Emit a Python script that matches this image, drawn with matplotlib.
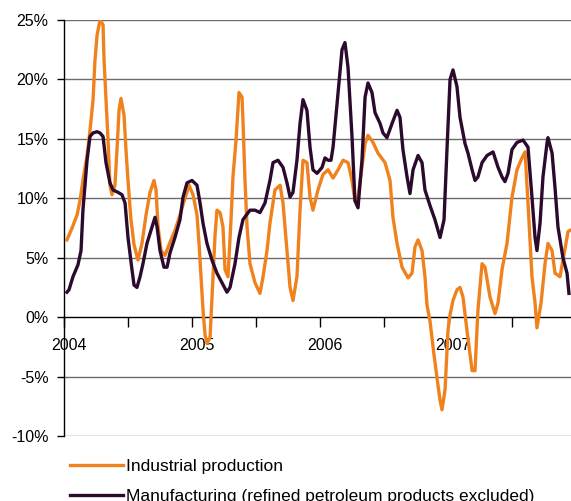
import numpy as np
import matplotlib
matplotlib.use("Agg")
import matplotlib.pyplot as plt
import matplotlib.ticker as ticker
from matplotlib.transforms import ScaledTranslation

plt.rcParams['font.family'] = ['Liberation Sans', 'DejaVu Sans']

# industrial production, year-on-year change in %
ind_years = [2004.023, 2004.063, 2004.102, 2004.125, 2004.148, 2004.180, 2004.203, 2004.227,
             2004.242, 2004.258, 2004.281, 2004.305, 2004.313, 2004.328, 2004.344, 2004.359,
             2004.375, 2004.398, 2004.414, 2004.430, 2004.445, 2004.469, 2004.484, 2004.500,
             2004.523, 2004.547, 2004.578, 2004.609, 2004.641, 2004.672, 2004.703, 2004.719,
             2004.734, 2004.758, 2004.789, 2004.828, 2004.867, 2004.906, 2004.945, 2004.977,
             2005.008, 2005.039, 2005.055, 2005.070, 2005.086, 2005.102, 2005.117, 2005.141,
             2005.164, 2005.180, 2005.195, 2005.219, 2005.242, 2005.258, 2005.281, 2005.305,
             2005.320, 2005.344, 2005.367, 2005.391, 2005.398, 2005.414, 2005.430, 2005.453,
             2005.492, 2005.531, 2005.555, 2005.586, 2005.609, 2005.648, 2005.688, 2005.711,
             2005.742, 2005.766, 2005.789, 2005.820, 2005.844, 2005.867, 2005.898, 2005.922,
             2005.945, 2005.984, 2006.023, 2006.063, 2006.102, 2006.141, 2006.180, 2006.219,
             2006.250, 2006.273, 2006.297, 2006.328, 2006.352, 2006.375, 2006.414, 2006.453,
             2006.508, 2006.547, 2006.570, 2006.602, 2006.641, 2006.688, 2006.719, 2006.742,
             2006.766, 2006.797, 2006.820, 2006.836, 2006.859, 2006.891, 2006.914, 2006.938,
             2006.953, 2006.977, 2007.000, 2007.016, 2007.039, 2007.070, 2007.094, 2007.117,
             2007.148, 2007.188, 2007.211, 2007.234, 2007.266, 2007.289, 2007.328, 2007.367,
             2007.391, 2007.422, 2007.461, 2007.500, 2007.539, 2007.578, 2007.602, 2007.625,
             2007.656, 2007.680, 2007.695, 2007.727, 2007.758, 2007.781, 2007.813, 2007.836,
             2007.875, 2007.898, 2007.938, 2007.953]
ind_vals = [6.5, 7.5, 8.6, 9.8, 11.5, 13.6, 15.7, 18.3,
            21.6, 23.7, 25.0, 24.6, 21.6, 18.3, 14.9, 11.1,
            10.3, 11.1, 14.1, 17.4, 18.4, 17.0, 14.1, 11.5,
            8.2, 6.1, 4.8, 6.2, 8.6, 10.5, 11.5, 10.7,
            7.7, 5.6, 5.2, 6.3, 7.3, 8.6, 10.0, 11.1,
            10.3, 8.6, 6.2, 3.5, 0.6, -1.5, -2.2, -1.7,
            3.4, 6.9, 9.0, 8.8, 7.6, 4.0, 3.4, 8.2,
            11.8, 14.9, 18.9, 18.5, 16.6, 11.5, 7.6, 4.5,
            2.9, 2.0, 3.4, 5.6, 7.9, 10.7, 11.1, 9.6,
            5.6, 2.5, 1.4, 3.4, 9.0, 13.2, 13.0, 10.1,
            9.0, 10.7, 12.0, 12.4, 11.7, 12.4, 13.2, 13.0,
            11.5, 9.8, 10.1, 12.6, 14.6, 15.3, 14.7, 13.8,
            13.0, 11.5, 8.4, 6.2, 4.2, 3.3, 3.7, 5.9,
            6.5, 5.6, 3.4, 1.0, -0.3, -3.2, -5.1, -7.0,
            -7.8, -6.1, -1.1, 0.2, 1.4, 2.3, 2.5, 1.7,
            -1.1, -4.5, -4.5, 0.6, 4.5, 4.2, 1.7, 0.3,
            1.2, 4.0, 6.2, 10.1, 12.4, 13.4, 13.9, 9.6,
            3.4, 1.2, -0.9, 1.2, 4.5, 6.2, 5.6, 3.7,
            3.4, 4.8, 7.2, 7.3]

# manufacturing excl. refined petroleum products, in %
man_years = [2004.023, 2004.039, 2004.070, 2004.109, 2004.133, 2004.148, 2004.164, 2004.180,
             2004.203, 2004.227, 2004.258, 2004.281, 2004.305, 2004.328, 2004.359, 2004.383,
             2004.422, 2004.453, 2004.477, 2004.500, 2004.531, 2004.547, 2004.570, 2004.594,
             2004.617, 2004.648, 2004.688, 2004.711, 2004.727, 2004.750, 2004.781, 2004.805,
             2004.828, 2004.867, 2004.906, 2004.930, 2004.961, 2005.000, 2005.039, 2005.063,
             2005.086, 2005.117, 2005.156, 2005.195, 2005.234, 2005.273, 2005.297, 2005.336,
             2005.367, 2005.398, 2005.453, 2005.492, 2005.531, 2005.570, 2005.609, 2005.633,
             2005.672, 2005.711, 2005.742, 2005.766, 2005.789, 2005.820, 2005.844, 2005.867,
             2005.898, 2005.922, 2005.945, 2005.977, 2006.016, 2006.039, 2006.063, 2006.086,
             2006.102, 2006.141, 2006.172, 2006.195, 2006.219, 2006.250, 2006.273, 2006.297,
             2006.328, 2006.352, 2006.375, 2006.406, 2006.430, 2006.469, 2006.492, 2006.523,
             2006.563, 2006.602, 2006.625, 2006.648, 2006.680, 2006.703, 2006.727, 2006.766,
             2006.797, 2006.820, 2006.859, 2006.898, 2006.938, 2006.969, 2006.992, 2007.016,
             2007.039, 2007.070, 2007.094, 2007.133, 2007.156, 2007.188, 2007.211, 2007.234,
             2007.266, 2007.305, 2007.352, 2007.391, 2007.422, 2007.445, 2007.469, 2007.500,
             2007.539, 2007.586, 2007.625, 2007.656, 2007.680, 2007.695, 2007.719, 2007.742,
             2007.773, 2007.781, 2007.813, 2007.836, 2007.859, 2007.898, 2007.930, 2007.945]
man_vals = [2.1, 2.3, 3.4, 4.4, 5.6, 9.0, 11.1, 13.2,
            15.2, 15.5, 15.6, 15.5, 15.2, 13.0, 11.3, 10.7,
            10.5, 10.3, 9.6, 6.7, 4.0, 2.7, 2.5, 3.4,
            4.5, 6.2, 7.6, 8.4, 7.6, 5.6, 4.2, 4.2,
            5.4, 6.7, 8.2, 10.1, 11.3, 11.5, 11.1, 9.6,
            7.9, 6.2, 4.8, 3.7, 2.9, 2.1, 2.5, 4.5,
            6.7, 8.2, 9.0, 9.0, 8.8, 9.6, 11.5, 13.0,
            13.2, 12.6, 11.3, 10.1, 10.5, 13.2, 16.3, 18.3,
            17.4, 14.3, 12.4, 12.1, 12.6, 13.4, 13.2, 13.2,
            14.3, 18.9, 22.5, 23.1, 21.0, 15.2, 9.8, 9.2,
            13.2, 18.5, 19.7, 18.9, 17.2, 16.3, 15.5, 15.1,
            16.3, 17.4, 16.8, 14.1, 11.8, 10.4, 12.4, 13.6,
            13.0, 10.7, 9.4, 8.2, 6.7, 8.2, 14.1, 20.0,
            20.8, 19.4, 16.8, 14.6, 13.8, 12.4, 11.5, 11.8,
            13.0, 13.6, 13.9, 12.6, 11.8, 11.4, 12.1, 14.1,
            14.7, 14.9, 14.3, 10.1, 6.7, 5.6, 7.9, 11.8,
            14.6, 15.1, 13.8, 10.9, 7.6, 5.0, 3.7, 2.0]

year_ticks = [2004, 2005, 2006, 2007]
y_ticks = [-10, -5, 0, 5, 10, 15, 20, 25]
labels = ['Industrial production', 'Manufacturing (refined petroleum products excluded)']

orange = '#F0821E'
dark = '#2B0A2D'

fig = plt.figure(figsize=(5.71, 5.01), dpi=100)
ax = fig.add_axes([64/571, 1-436/501, 1-64/571, 416/501])

ax.plot(ind_years, ind_vals, color=orange, lw=2.4, label=labels[0], zorder=3)
ax.plot(man_years, man_vals, color=dark, lw=2.4, label=labels[1], zorder=3)

ax.set_xlim(2004, 2004 + 507/128)
ax.set_ylim(-10, 25)

# horizontal grid
for v in y_ticks:
    if v != 0:
        ax.axhline(v, color='#6b6b6b', lw=1.0, zorder=1)

ax.spines['top'].set_visible(False)
ax.spines['right'].set_visible(False)
ax.spines['bottom'].set_position(('data', 0))
ax.spines['left'].set_color('black')
ax.spines['bottom'].set_color('black')
ax.spines['left'].set_linewidth(1.0)
ax.spines['bottom'].set_linewidth(1.0)

ax.yaxis.set_major_locator(ticker.FixedLocator(y_ticks))
ax.yaxis.set_major_formatter(ticker.FuncFormatter(lambda v, p: '%d%%' % v))
ax.tick_params(axis='y', direction='out', length=5, width=1, labelsize=11.5, pad=6, colors='black')

ax.xaxis.set_major_locator(ticker.FixedLocator(year_ticks))
ax.xaxis.set_minor_locator(ticker.FixedLocator([y + 0.5 for y in year_ticks]))
ax.xaxis.set_major_formatter(ticker.FuncFormatter(lambda v, p: '%d' % v))
ax.tick_params(axis='x', which='both', direction='out', length=7, width=1)
ax.tick_params(axis='x', which='major', labelsize=11.5, pad=8)

shift = ScaledTranslation(5/100, 0, fig.dpi_scale_trans)
for lab in ax.get_xticklabels():
    lab.set_transform(lab.get_transform() + shift)

fig.legend(loc='upper left', bbox_to_anchor=(70/571, 1-459/501), frameon=False,
           fontsize=12.5, handlelength=3.05, handletextpad=0.15, labelspacing=0.85,
           borderpad=0, borderaxespad=0)

fig.savefig('out.png', dpi=100)
